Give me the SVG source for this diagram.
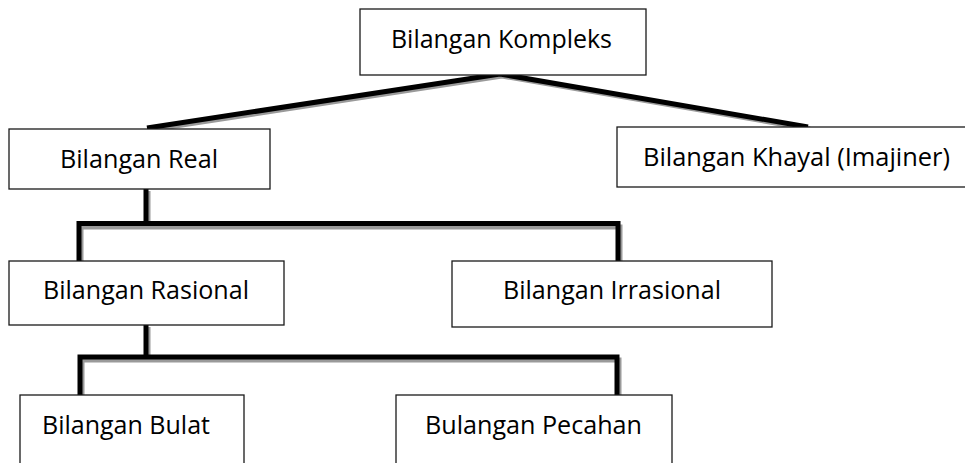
<svg xmlns="http://www.w3.org/2000/svg" width="965" height="463" viewBox="0 0 965 463">
<style>
.box{fill:#fff;stroke:#1a1a1a;stroke-width:1.3}
.t{font-family:"Open Sans","Noto Sans",sans-serif;font-size:25px;fill:#000;text-anchor:middle}
.sh{fill:none;stroke:#9a9a9a;stroke-width:5;stroke-linejoin:miter}
.ln{fill:none;stroke:#000;stroke-width:5;stroke-linejoin:miter}
</style>
<rect width="965" height="463" fill="#fff"/>
<g id="connectors">
<polyline class="sh" points="149,130 502,76 810,129"/>
<polyline class="ln" points="147,128 500,74 808,127"/>
<path class="sh" d="M148,191V227M81,264V227H620V264"/>
<path class="ln" d="M146,189V225M79,262V223.5H618V262"/>
<path class="sh" d="M148,327V360M82,398V360H619V398"/>
<path class="ln" d="M146,325V358M80,396V357H617V396"/>
</g>
<g id="n-kompleks"><rect class="box" x="360" y="9" width="286" height="66"/><text class="t" x="501.5" y="48" textLength="221" lengthAdjust="spacingAndGlyphs">Bilangan Kompleks</text></g>
<g id="n-real"><rect class="box" x="9" y="129" width="261" height="60"/><text class="t" x="139" y="168" textLength="158" lengthAdjust="spacingAndGlyphs">Bilangan Real</text></g>
<g id="n-khayal"><rect class="box" x="617" y="127" width="360" height="60"/><text class="t" x="796.5" y="166" textLength="307" lengthAdjust="spacingAndGlyphs">Bilangan Khayal (Imajiner)</text></g>
<g id="n-rasional"><rect class="box" x="9" y="261" width="275" height="64"/><text class="t" x="146" y="299" textLength="206" lengthAdjust="spacingAndGlyphs">Bilangan Rasional</text></g>
<g id="n-irrasional"><rect class="box" x="452" y="261" width="320" height="66"/><text class="t" x="612" y="299" textLength="218" lengthAdjust="spacingAndGlyphs">Bilangan Irrasional</text></g>
<g id="n-bulat"><rect class="box" x="20" y="395" width="224" height="80"/><text class="t" x="126" y="434" textLength="168" lengthAdjust="spacingAndGlyphs">Bilangan Bulat</text></g>
<g id="n-pecahan"><rect class="box" x="396" y="395" width="276" height="80"/><text class="t" x="533.5" y="434" textLength="217" lengthAdjust="spacingAndGlyphs">Bulangan Pecahan</text></g>
</svg>
